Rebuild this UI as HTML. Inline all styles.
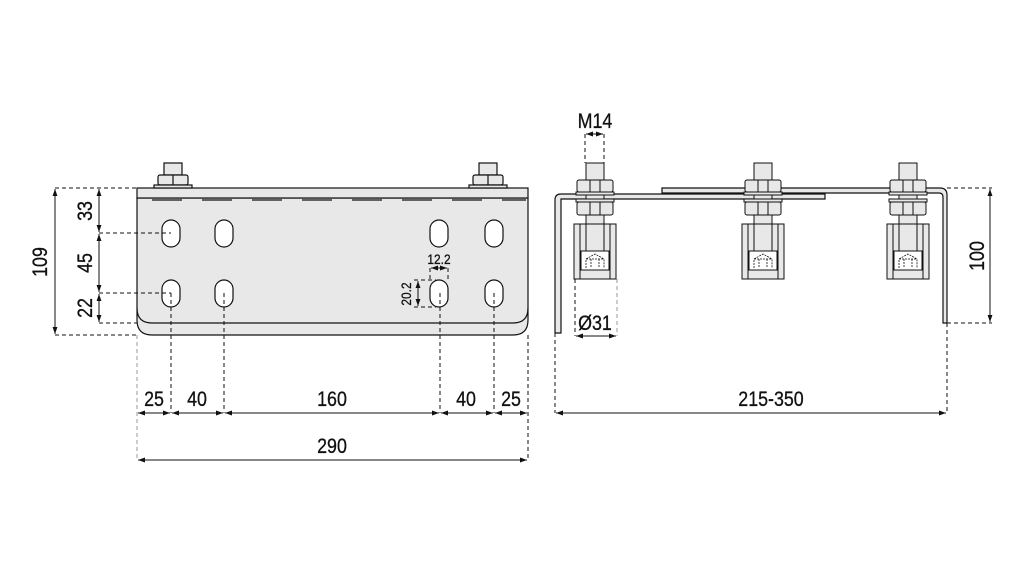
<!DOCTYPE html>
<html><head><meta charset="utf-8"><style>
html,body{margin:0;padding:0;background:#fff;}
svg{display:block;}
text{font-family:"Liberation Sans",sans-serif;fill:#111;stroke:#111;stroke-width:0.3;}
</style></head><body>
<svg width="1021" height="568" viewBox="0 0 1021 568" xmlns="http://www.w3.org/2000/svg">
<defs>
<marker id="a" viewBox="0 0 10 10" refX="10" refY="5" markerWidth="7" markerHeight="7" orient="auto-start-reverse"><path d="M0,1.5 L10,5 L0,8.5 z" fill="#111"/></marker>
<g id="roll" stroke="#111" stroke-width="1" fill="#e8e8e8">
  <rect x="-9" y="163" width="18" height="62"/>
  <rect x="-18" y="180" width="36" height="12" rx="2"/>
  <line x1="-5" y1="180" x2="-5" y2="192"/><line x1="5" y1="180" x2="5" y2="192"/>
  <rect x="-19" y="192" width="38" height="3"/>
  <rect x="-19" y="199" width="38" height="3"/>
  <rect x="-18" y="202" width="36" height="13" rx="2"/>
  <line x1="-5" y1="202" x2="-5" y2="215"/><line x1="5" y1="202" x2="5" y2="215"/>
  <path d="M-21,224 H21 L21,279 H-21 Z"/>
  <line x1="-15" y1="224" x2="-15" y2="279"/><line x1="15" y1="224" x2="15" y2="279"/>
  <rect x="-9" y="224" width="18" height="28"/>
  <rect x="-14" y="251" width="28" height="19" fill="#fff"/>
  <path d="M-9,268 V259 L0,254 L9,259 V268 M-9,259 H9 M-4,259 V268 M4,259 V268" fill="none" stroke-width="0.8" stroke-dasharray="2,1"/>
</g>
</defs>

<!-- LEFT VIEW -->
<g stroke="#111" stroke-width="1.2" fill="#e8e8e8">
  <path d="M137,198 V320 Q137,335 152,335 H513 Q528,335 528,320 V198 Z"/>
  <path d="M137,308 Q137,323 152,323 H513 Q528,323 528,308" fill="none"/>
  <rect x="137" y="188" width="391" height="10"/>
  <rect x="164" y="163" width="18" height="12"/>
  <rect x="158" y="175" width="30" height="10" rx="2"/>
  <line x1="173" y1="175" x2="173" y2="185"/>
  <rect x="154" y="185" width="38" height="3"/>
  <rect x="479" y="163" width="18" height="12"/>
  <rect x="473" y="175" width="30" height="10" rx="2"/>
  <line x1="488" y1="175" x2="488" y2="185"/>
  <rect x="469" y="185" width="38" height="3"/>
</g>
<line x1="140" y1="200" x2="526" y2="200" stroke="#111" stroke-width="1.2" stroke-dasharray="30,20" stroke-dashoffset="-12"/>
<g stroke="#111" stroke-width="1.2" fill="#fff">
  <rect x="162" y="220" width="18" height="27" rx="9"/>
  <rect x="215" y="220" width="18" height="27" rx="9"/>
  <rect x="430" y="220" width="18" height="27" rx="9"/>
  <rect x="485" y="220" width="18" height="27" rx="9"/>
  <rect x="162" y="280" width="18" height="27" rx="9"/>
  <rect x="215" y="280" width="18" height="27" rx="9"/>
  <rect x="430" y="280" width="18" height="27" rx="9"/>
  <rect x="485" y="280" width="18" height="27" rx="9"/>
</g>
<g stroke="#111" stroke-width="1" stroke-dasharray="4,3" fill="none">
  <line x1="55" y1="188" x2="137" y2="188"/>
  <line x1="55" y1="335" x2="137" y2="335"/>
  <line x1="99" y1="233" x2="171" y2="233"/>
  <line x1="99" y1="293" x2="171" y2="293"/>
  <line x1="99" y1="323" x2="137" y2="323"/>
  <line x1="171" y1="293" x2="171" y2="413"/>
  <line x1="224" y1="293" x2="224" y2="413"/>
  <line x1="440" y1="293" x2="440" y2="413"/>
  <line x1="494" y1="293" x2="494" y2="413"/>
  <line x1="528" y1="335" x2="528" y2="460"/>
  <line x1="137" y1="335" x2="137" y2="460" stroke="#999"/>
  <line x1="414" y1="280" x2="436" y2="280"/>
  <line x1="414" y1="307" x2="436" y2="307"/>
  <line x1="430" y1="268" x2="430" y2="280"/>
  <line x1="448" y1="268" x2="448" y2="280"/>
</g>
<g stroke="#111" stroke-width="1" fill="none" marker-start="url(#a)" marker-end="url(#a)">
  <line x1="55" y1="189" x2="55" y2="334"/>
  <line x1="99" y1="189" x2="99" y2="232"/>
  <line x1="99" y1="234" x2="99" y2="292"/>
  <line x1="99" y1="294" x2="99" y2="322"/>
  <line x1="138" y1="413" x2="170" y2="413"/>
  <line x1="172" y1="413" x2="223" y2="413"/>
  <line x1="225" y1="413" x2="439" y2="413"/>
  <line x1="441" y1="413" x2="493" y2="413"/>
  <line x1="495" y1="413" x2="527" y2="413"/>
  <line x1="138" y1="460" x2="527" y2="460"/>
  <line x1="431" y1="268" x2="447" y2="268"/>
  <line x1="418" y1="281" x2="418" y2="306"/>
</g>
<g font-size="21" text-anchor="middle">
  <text transform="translate(47,262) rotate(-90) scale(0.85,1)">109</text>
  <text transform="translate(92,211) rotate(-90) scale(0.85,1)">33</text>
  <text transform="translate(92,263) rotate(-90) scale(0.85,1)">45</text>
  <text transform="translate(92,308) rotate(-90) scale(0.85,1)">22</text>
  <text transform="translate(154,406) scale(0.85,1)">25</text>
  <text transform="translate(197,406) scale(0.85,1)">40</text>
  <text transform="translate(332,406) scale(0.85,1)">160</text>
  <text transform="translate(466,406) scale(0.85,1)">40</text>
  <text transform="translate(511,406) scale(0.85,1)">25</text>
  <text transform="translate(332,453) scale(0.85,1)">290</text>
  <text transform="translate(771,406) scale(0.85,1)">215-350</text>
  <text transform="translate(595,128) scale(0.85,1)">M14</text>
  <text transform="translate(595,330) scale(0.85,1)">Ø31</text>
  <text transform="translate(984,256) rotate(-90) scale(0.85,1)">100</text>
</g>
<g font-size="14" text-anchor="middle">
  <text transform="translate(439,264) scale(0.85,1)">12.2</text>
  <text transform="translate(411,294) rotate(-90) scale(0.85,1)">20.2</text>
</g>

<!-- RIGHT VIEW -->
<g stroke="#111" stroke-width="1.2" fill="#e8e8e8">
  <path d="M662,188 H940 Q947,188 947,195 V323 H943 V197 Q943,193 939,193 H662 Z"/>
  <path d="M825,194 V199 H561 V333 H555 V200 Q555,194 561,194 Z"/>
</g>
<use href="#roll" x="595" y="0"/>
<use href="#roll" x="763" y="0"/>
<use href="#roll" x="908" y="0"/>
<g stroke="#111" stroke-width="1" stroke-dasharray="4,3" fill="none">
  <line x1="585" y1="134" x2="585" y2="163"/>
  <line x1="604" y1="134" x2="604" y2="163"/>
  <line x1="575" y1="279" x2="575" y2="336"/>
  <line x1="617" y1="279" x2="617" y2="336" stroke="#999"/>
  <line x1="947" y1="188" x2="992" y2="188"/>
  <line x1="947" y1="323" x2="992" y2="323"/>
  <line x1="555" y1="333" x2="555" y2="413"/>
  <line x1="947" y1="323" x2="947" y2="413"/>
</g>
<g stroke="#111" stroke-width="1" fill="none" marker-start="url(#a)" marker-end="url(#a)">
  <line x1="586" y1="134" x2="603" y2="134"/>
  <line x1="576" y1="336" x2="616" y2="336"/>
  <line x1="990" y1="189" x2="990" y2="322"/>
  <line x1="556" y1="413" x2="946" y2="413"/>
</g>
</svg>
</body></html>
